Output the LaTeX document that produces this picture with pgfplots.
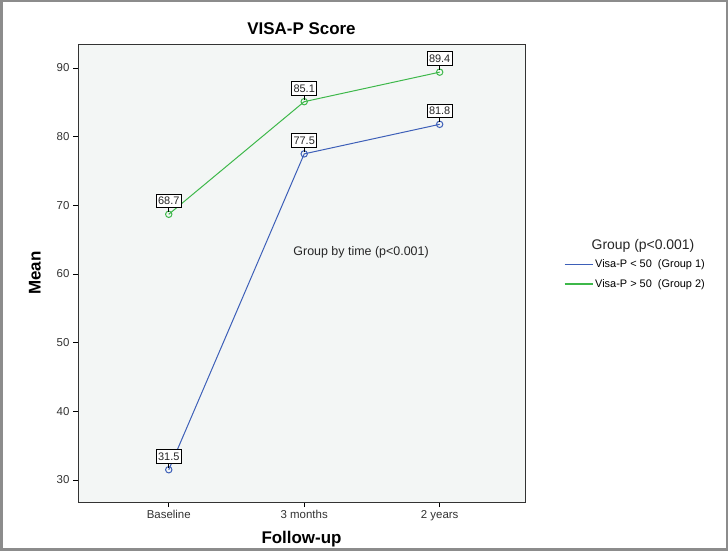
\documentclass[border=0pt]{standalone}
\usepackage{pgfplots}
\pgfplotsset{compat=1.18}
\usepackage{fontspec}
\setmainfont{Liberation Sans}
\definecolor{gblue}{HTML}{3D5FB8}
\definecolor{ggreen}{HTML}{3DB84A}
\definecolor{bgc}{HTML}{F3F6F5}
\begin{document}
\begin{tikzpicture}
\path[use as bounding box] (0bp,0bp) rectangle (728bp,551bp);
\fill[white] (0bp,0bp) rectangle (728bp,551bp);
\begin{axis}[
  at={(78bp,49bp)}, anchor=south west,
  scale only axis, width=447bp, height=458bp,
  clip mode=individual,
  xmin=-0.67, xmax=2.63, ymin=26.8, ymax=93.5,
  xtick={0,1,2}, xticklabels={Baseline,3 months,2 years},
  ytick={30,40,50,60,70,80,90},
  tick align=outside, tick style={black, line width=0.8pt}, major tick length=5bp,
  xtick pos=bottom, ytick pos=left,
  axis line style={black!80, line width=0.9pt},
  axis background/.style={fill=bgc},
  /pgf/number format/assume math mode=true,
  ticklabel style={font=\fontsize{11.5}{13}\selectfont, text=black!80},
  title={\textbf{VISA-P Score}},
  title style={font=\fontsize{17}{20}\selectfont, yshift=0bp},
  xlabel={\textbf{Follow-up}}, ylabel={\textbf{Mean}},
  label style={font=\fontsize{17}{20}\selectfont},
  xlabel style={yshift=-3bp}, ylabel style={yshift=9bp},
  legend style={at={(1.08,0.538)}, anchor=north west, draw=none, fill=none,
    font=\fontsize{11}{13}\selectfont, row sep=6bp},
  legend cell align=left,
  legend image code/.code={\draw[#1, line width=1.2pt] (0bp,0bp) -- (28bp,0bp);},
  nodes near coords, point meta=explicit,
  every node near coord/.append style={anchor=south, yshift=6bp, draw=black, line width=0.9pt,
    fill=white, inner xsep=2bp, inner ysep=3bp, font=\fontsize{11}{13}\selectfont, text=black!85,
    append after command={(\tikzlastnode.south) edge[black, line width=0.7pt] ([yshift=-4bp]\tikzlastnode.south)}},
]
\addplot[gblue, line width=1pt, mark=o, mark size=3.2bp, mark options={solid}] coordinates {
  (0,31.5) [31.5] (1,77.5) [77.5] (2,81.8) [81.8]};
\addlegendentry{Visa-P < 50 \ (Group 1)}
\addplot[ggreen, line width=1pt, mark=o, mark size=3.2bp, mark options={solid}] coordinates {
  (0,68.7) [68.7] (1,85.1) [85.1] (2,89.4) [89.4]};
\addlegendentry{Visa-P > 50 \ (Group 2)}
\node[font=\fontsize{12.5}{15}\selectfont, text=black!85] at (axis cs:1.42,63.2) {Group by time (p<0.001)};
\node[font=\fontsize{14}{16}\selectfont, text=black!85] at (rel axis cs:1.264,0.56) {Group (p<0.001)};
\end{axis}
\draw[black!45, line width=2.5bp] (1.25bp,1.25bp) rectangle (726.75bp,549.75bp);
\end{tikzpicture}
\end{document}
